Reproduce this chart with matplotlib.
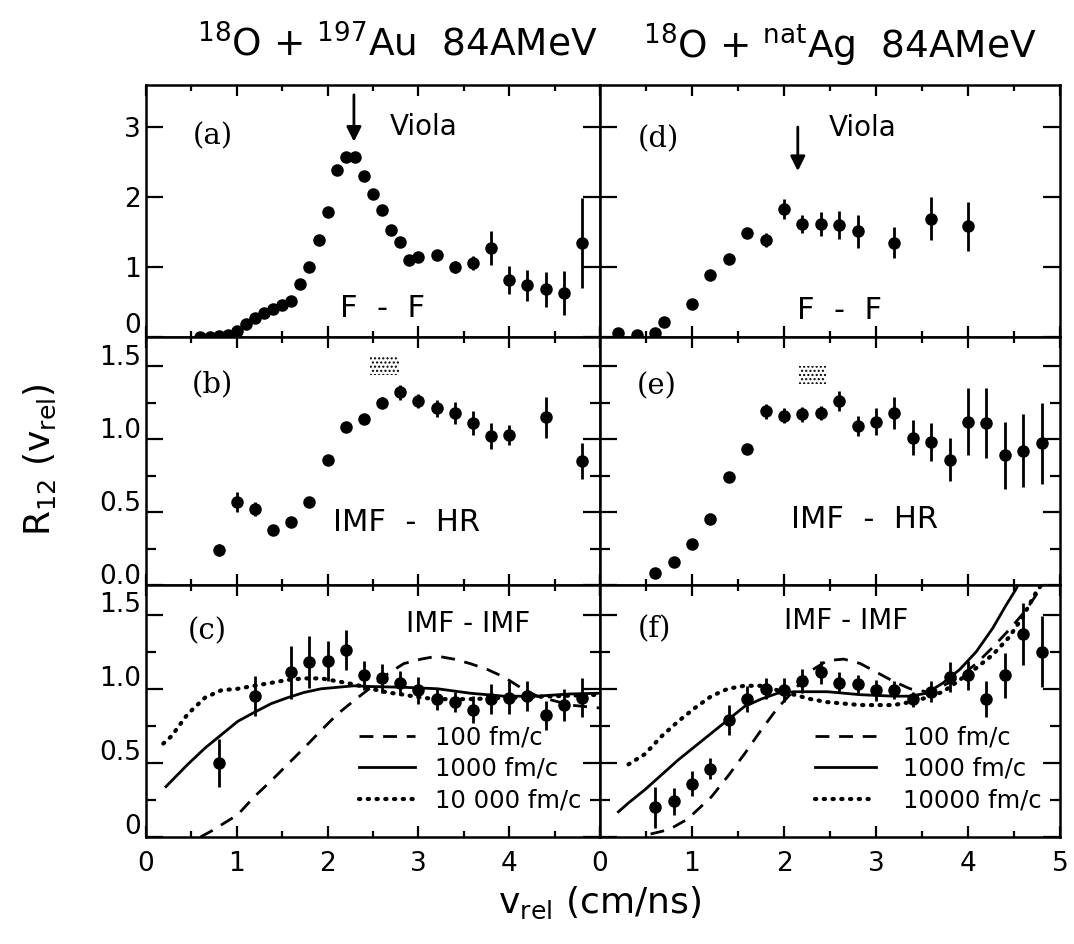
import matplotlib
matplotlib.use("Agg")
import matplotlib.pyplot as plt
import matplotlib.transforms as mtransforms
from matplotlib.patches import Rectangle
from matplotlib.ticker import MultipleLocator, FixedLocator

plt.rcParams['font.family'] = ['DejaVu Sans']
plt.rcParams['mathtext.default'] = 'regular'

# ---------------- data ----------------
# (a) 18O + 197Au, F-F
au_ff_x = [0.6, 0.7, 0.8, 0.9, 1.0, 1.1, 1.2, 1.3, 1.4, 1.5, 1.6, 1.7, 1.8, 1.9, 2.0,
           2.1, 2.2, 2.3, 2.4, 2.5, 2.6, 2.7, 2.8, 2.9, 3.0, 3.2, 3.4, 3.6, 3.8, 4.0,
           4.2, 4.4, 4.6, 4.8]
au_ff_y = [0.0, 0.0, 0.01, 0.03, 0.08, 0.18, 0.27, 0.34, 0.40, 0.46, 0.52, 0.76, 1.0, 1.39, 1.78,
           2.38, 2.57, 2.57, 2.30, 2.05, 1.82, 1.53, 1.36, 1.10, 1.15, 1.17, 1.00, 1.06, 1.27, 0.82,
           0.74, 0.68, 0.63, 1.34]
au_ff_e = [0, 0, 0, 0, 0, 0, 0, 0, 0, 0, 0, 0, 0, 0, 0,
           0.06, 0.06, 0.06, 0.06, 0.06, 0.06, 0.06, 0.06, 0.06, 0.05, 0.07, 0.08, 0.10, 0.24, 0.20,
           0.22, 0.25, 0.31, 0.64]

# (b) 18O + 197Au, IMF-HR
au_ih_x = [0.8, 1.0, 1.2, 1.4, 1.6, 1.8, 2.0, 2.2, 2.4, 2.6, 2.8, 3.0, 3.2, 3.4, 3.6, 3.8, 4.0, 4.4, 4.8]
au_ih_y = [0.24, 0.57, 0.52, 0.38, 0.43, 0.57, 0.86, 1.08, 1.14, 1.25, 1.32, 1.26, 1.21, 1.18, 1.11,
           1.02, 1.03, 1.15, 0.85]
au_ih_e = [0.04, 0.07, 0.05, 0, 0, 0, 0, 0, 0, 0.04, 0.05, 0.05, 0.06, 0.076, 0.08, 0.09, 0.07, 0.14, 0.12]

# (c) 18O + 197Au, IMF-IMF
au_ii_x = [0.8, 1.2, 1.6, 1.8, 2.0, 2.2, 2.4, 2.6, 2.8, 3.0, 3.2, 3.4, 3.6, 3.8, 4.0, 4.2, 4.4, 4.6, 4.8]
au_ii_y = [0.50, 0.95, 1.11, 1.18, 1.19, 1.26, 1.09, 1.07, 1.04, 0.99, 0.93, 0.91, 0.86, 0.93, 0.94,
           0.95, 0.82, 0.89, 0.94]
au_ii_e = [0.16, 0.135, 0.18, 0.175, 0.135, 0.135, 0.10, 0.10, 0.08, 0.09, 0.07, 0.07, 0.09, 0.10,
           0.11, 0.10, 0.10, 0.11, 0.13]

au_t100_x = [0.6, 0.72, 1.01, 1.19, 1.38, 1.56, 1.74, 1.93, 2.11, 2.29, 2.48, 2.66, 2.84, 3.03, 3.21,
             3.39, 3.57, 3.76, 3.94, 4.12, 4.31, 4.49, 4.67, 5.0]
au_t100_y = [0.0, 0.04, 0.15, 0.27, 0.38, 0.49, 0.60, 0.72, 0.83, 0.92, 1.01, 1.10, 1.17, 1.20, 1.22,
             1.20, 1.17, 1.13, 1.08, 1.01, 0.95, 0.92, 0.89, 0.87]
au_t1000_x = [0.22, 0.46, 0.65, 0.83, 1.01, 1.19, 1.38, 1.56, 1.74, 1.93, 2.11, 2.29, 2.48, 2.84, 3.21,
              3.57, 3.94, 4.30, 4.67, 5.0]
au_t1000_y = [0.34, 0.49, 0.60, 0.69, 0.78, 0.84, 0.90, 0.94, 0.975, 1.0, 1.01, 1.02, 1.015, 1.01, 1.0,
              0.97, 0.95, 0.95, 0.965, 0.97]
au_t10000_x = [0.19, 0.28, 0.46, 0.65, 0.83, 1.01, 1.19, 1.38, 1.56, 1.74, 1.93, 2.11, 2.29, 2.48, 2.66,
               2.84, 3.03, 3.21, 3.57, 4.0, 4.5, 5.0]
au_t10000_y = [0.63, 0.68, 0.83, 0.94, 0.99, 1.00, 1.02, 1.04, 1.06, 1.07, 1.07, 1.05, 1.03, 1.00, 0.975,
               0.96, 0.94, 0.93, 0.93, 0.94, 0.95, 0.96]

# (d) 18O + natAg, F-F
ag_ff_x = [0.2, 0.4, 0.6, 0.7, 1.0, 1.2, 1.4, 1.6, 1.8, 2.0, 2.2, 2.4, 2.6, 2.8, 3.2, 3.6, 4.0]
ag_ff_y = [0.06, 0.03, 0.06, 0.22, 0.47, 0.88, 1.12, 1.48, 1.39, 1.83, 1.62, 1.62, 1.60, 1.51, 1.35,
           1.69, 1.58]
ag_ff_e = [0, 0, 0, 0, 0, 0, 0, 0, 0.10, 0.14, 0.13, 0.17, 0.20, 0.24, 0.22, 0.31, 0.35]

# (e) 18O + natAg, IMF-HR
ag_ih_x = [0.6, 0.8, 1.0, 1.2, 1.4, 1.6, 1.8, 2.0, 2.2, 2.4, 2.6, 2.8, 3.0, 3.2, 3.4, 3.6, 3.8, 4.0,
           4.2, 4.4, 4.6, 4.8]
ag_ih_y = [0.08, 0.16, 0.28, 0.45, 0.74, 0.93, 1.19, 1.16, 1.17, 1.18, 1.26, 1.09, 1.12, 1.18, 1.01,
           0.98, 0.86, 1.12, 1.11, 0.89, 0.92, 0.97]
ag_ih_e = [0, 0, 0, 0, 0, 0, 0.05, 0.05, 0.05, 0.05, 0.07, 0.07, 0.09, 0.11, 0.12, 0.13, 0.15, 0.23,
           0.24, 0.23, 0.25, 0.28]

# (f) 18O + natAg, IMF-IMF
ag_ii_x = [0.6, 0.8, 1.0, 1.2, 1.4, 1.6, 1.8, 2.0, 2.2, 2.4, 2.6, 2.8, 3.0, 3.2, 3.4, 3.6, 3.8, 4.0,
           4.2, 4.4, 4.6, 4.8]
ag_ii_y = [0.20, 0.24, 0.36, 0.46, 0.79, 0.93, 1.00, 0.99, 1.05, 1.11, 1.04, 1.03, 0.99, 0.99, 0.93,
           0.98, 1.08, 1.09, 0.93, 1.09, 1.37, 1.25]
ag_ii_e = [0.14, 0.09, 0.085, 0.07, 0.10, 0.09, 0.07, 0.08, 0.08, 0.08, 0.07, 0.06, 0.07, 0.06, 0.05,
           0.07, 0.10, 0.10, 0.12, 0.15, 0.21, 0.24]

ag_t100_x = [0.55, 0.75, 0.95, 1.21, 1.39, 1.57, 1.75, 1.93, 2.11, 2.29, 2.47, 2.65, 2.83, 3.01, 3.19,
             3.37, 3.55, 3.73, 3.91, 4.09, 4.27, 4.45, 4.63, 4.77, 4.82]
ag_t100_y = [0.02, 0.05, 0.12, 0.27, 0.41, 0.56, 0.72, 0.87, 0.99, 1.12, 1.19, 1.20, 1.17, 1.11, 1.05,
             1.00, 0.98, 1.02, 1.08, 1.17, 1.28, 1.40, 1.53, 1.66, 1.72]
ag_t1000_x = [0.2, 0.31, 0.49, 0.67, 0.85, 1.03, 1.21, 1.39, 1.57, 1.75, 1.93, 2.11, 2.47, 2.83, 3.19,
              3.37, 3.55, 3.73, 3.91, 4.09, 4.27, 4.41, 4.52, 4.56]
ag_t1000_y = [0.17, 0.23, 0.32, 0.42, 0.52, 0.61, 0.70, 0.79, 0.88, 0.93, 0.97, 0.98, 0.98, 0.96, 0.95,
              0.95, 0.97, 1.04, 1.13, 1.25, 1.41, 1.56, 1.67, 1.72]
ag_t10000_x = [0.31, 0.49, 0.67, 0.85, 1.03, 1.21, 1.39, 1.57, 1.75, 1.93, 2.11, 2.29, 2.47, 2.83, 3.19,
               3.37, 3.55, 3.73, 3.91, 4.09, 4.27, 4.45, 4.59, 4.74, 4.82]
ag_t10000_y = [0.49, 0.56, 0.68, 0.78, 0.87, 0.95, 1.00, 1.02, 1.02, 0.99, 0.96, 0.93, 0.91, 0.89, 0.89,
               0.91, 0.94, 0.98, 1.06, 1.14, 1.23, 1.35, 1.48, 1.65, 1.72]

titles = [r"$^{18}$O + $^{197}$Au  84AMeV", r"$^{18}$O + $^{nat}$Ag  84AMeV"]
panel_tags = ["(a)", "(b)", "(c)", "(d)", "(e)", "(f)"]
legend_labels_left = ["100 fm/c", "1000 fm/c", "10 000 fm/c"]
legend_labels_right = ["100 fm/c", "1000 fm/c", "10000 fm/c"]

# ---------------- figure ----------------
W, H = 1074, 944
fig = plt.figure(figsize=(W / 100, H / 100), dpi=100)

cols = [(146, 600), (600, 1060)]
rows = [(85, 337), (337, 585), (585, 837)]
ylims = [3.6, 1.7, 1.7]

axes = {}
for ci, (x0, x1) in enumerate(cols):
    for ri, (y0, y1) in enumerate(rows):
        ax = fig.add_axes([x0 / W, 1 - y1 / H, (x1 - x0) / W, (y1 - y0) / H])
        ax.set_xlim(0, 5)
        ax.set_ylim(0, ylims[ri])
        for s in ax.spines.values():
            s.set_linewidth(1.8)
        ax.xaxis.set_major_locator(MultipleLocator(1))
        ax.xaxis.set_minor_locator(MultipleLocator(0.5))
        if ri == 0:
            ax.yaxis.set_major_locator(FixedLocator([0, 1, 2, 3]))
        else:
            ax.yaxis.set_major_locator(MultipleLocator(0.5))
            ax.yaxis.set_minor_locator(MultipleLocator(0.25))
        ax.tick_params(axis='both', which='both', direction='in', top=True, right=True,
                       width=1.6, labelsize=19)
        ax.tick_params(axis='x', which='major', length=8)
        ax.tick_params(axis='x', which='minor', length=4.5)
        ax.tick_params(axis='y', which='major', length=12)
        ax.tick_params(axis='y', which='minor', length=7)
        ax.tick_params(axis='x', pad=10)
        if ri < 2:
            ax.tick_params(axis='x', labelbottom=False)
        if ci == 1:
            ax.tick_params(axis='y', labelleft=False)
        axes[(ci, ri)] = ax

# y tick labels
axa, axb, axc = axes[(0, 0)], axes[(0, 1)], axes[(0, 2)]
axa.set_yticklabels(["0", "1", "2", "3"])
axb.set_yticks([0, 0.5, 1.0, 1.5])
axb.set_yticklabels(["0.0", "0.5", "1.0", "1.5"])
axc.set_yticks([0, 0.5, 1.0, 1.5])
axc.set_yticklabels(["0", "0.5", "1.0", "1.5"])
# x tick labels
axes[(0, 2)].set_xticks([0, 1, 2, 3, 4, 5])
axes[(0, 2)].set_xticklabels(["0", "1", "2", "3", "4", ""])
axes[(1, 2)].set_xticks([0, 1, 2, 3, 4, 5])
axes[(1, 2)].set_xticklabels(["0", "1", "2", "3", "4", "5"])

# shift y labels slightly upward as in the original
def shift(labels, dy_px):
    for lab in labels:
        lab.set_transform(lab.get_transform() +
                          mtransforms.ScaledTranslation(0, dy_px / 100, fig.dpi_scale_trans))

shift([axes[(0, 0)].get_yticklabels()[0]], 14)
shift(axes[(0, 1)].get_yticklabels(), 11)
shift(axes[(0, 2)].get_yticklabels(), 13)

pt = dict(fmt='o', color='black', ms=8, elinewidth=2, capsize=0, zorder=3)
curve_kw = {
    't100': dict(color='black', lw=2, dashes=(5, 3.5)),
    't1000': dict(color='black', lw=2, linestyle='-'),
    't10000': dict(color='black', lw=3, dashes=(0.3, 1.8), dash_capstyle='round'),
}
leg_fs = 17.5

# (a)
ax = axes[(0, 0)]
ax.errorbar(au_ff_x, au_ff_y, yerr=au_ff_e, **pt)
ax.annotate('', xy=(2.29, 2.79), xytext=(2.29, 3.46),
            arrowprops=dict(arrowstyle='-|>', lw=2, color='black', mutation_scale=22,
                            shrinkA=0, shrinkB=0))
ax.text(2.68, 3.0, "Viola", fontsize=20, va='center', ha='left')
ax.text(2.6, 0.41, "F  -  F", fontsize=22, va='center', ha='center')

# (b)
ax = axes[(0, 1)]
ax.errorbar(au_ih_x, au_ih_y, yerr=au_ih_e, **pt)
ax.add_patch(Rectangle((2.47, 1.44), 0.32, 0.12, facecolor='white', edgecolor='black',
                       hatch='....', lw=0))
ax.text(2.87, 0.43, "IMF  -  HR", fontsize=22, va='center', ha='center')

# (c)
ax = axes[(0, 2)]
h1, = ax.plot(au_t100_x, au_t100_y, **curve_kw['t100'])
h2, = ax.plot(au_t1000_x, au_t1000_y, **curve_kw['t1000'])
h3, = ax.plot(au_t10000_x, au_t10000_y, **curve_kw['t10000'])
ax.errorbar(au_ii_x, au_ii_y, yerr=au_ii_e, **pt)
ax.text(3.55, 1.44, "IMF - IMF", fontsize=20, va='center', ha='center')
ax.legend([h1, h2, h3], legend_labels_left, loc='center left', bbox_to_anchor=(0.47, 0.27),
          frameon=False, fontsize=leg_fs, handlelength=2.3, handletextpad=0.8,
          labelspacing=0.3, borderpad=0, borderaxespad=0)

# (d)
ax = axes[(1, 0)]
ax.errorbar(ag_ff_x, ag_ff_y, yerr=ag_ff_e, **pt)
ax.annotate('', xy=(2.15, 2.37), xytext=(2.15, 3.0),
            arrowprops=dict(arrowstyle='-|>', lw=2, color='black', mutation_scale=22,
                            shrinkA=0, shrinkB=0))
ax.text(2.49, 2.98, "Viola", fontsize=20, va='center', ha='left')
ax.text(2.6, 0.38, "F  -  F", fontsize=22, va='center', ha='center')

# (e)
ax = axes[(1, 1)]
ax.errorbar(ag_ih_x, ag_ih_y, yerr=ag_ih_e, **pt)
ax.add_patch(Rectangle((2.16, 1.38), 0.30, 0.12, facecolor='white', edgecolor='black',
                       hatch='....', lw=0))
ax.text(2.88, 0.45, "IMF  -  HR", fontsize=22, va='center', ha='center')

# (f)
ax = axes[(1, 2)]
g1, = ax.plot(ag_t100_x, ag_t100_y, **curve_kw['t100'])
g2, = ax.plot(ag_t1000_x, ag_t1000_y, **curve_kw['t1000'])
g3, = ax.plot(ag_t10000_x, ag_t10000_y, **curve_kw['t10000'])
ax.errorbar(ag_ii_x, ag_ii_y, yerr=ag_ii_e, **pt)
ax.text(2.68, 1.46, "IMF - IMF", fontsize=20, va='center', ha='center')
ax.legend([g1, g2, g3], legend_labels_right, loc='center left', bbox_to_anchor=(0.468, 0.27),
          frameon=False, fontsize=leg_fs, handlelength=2.5, handletextpad=1.1,
          labelspacing=0.3, borderpad=0, borderaxespad=0)

# panel tags
tag_pos = {(0, 0): (0.52, 2.86), (0, 1): (0.5, 1.37), (0, 2): (0.46, 1.39),
           (1, 0): (0.41, 2.83), (1, 1): (0.40, 1.36), (1, 2): (0.41, 1.40)}
for (ci, ri), tag in zip([(0, 0), (0, 1), (0, 2), (1, 0), (1, 1), (1, 2)], panel_tags):
    x, y = tag_pos[(ci, ri)]
    axes[(ci, ri)].text(x, y, tag, fontsize=21, family='DejaVu Serif', va='center', ha='left')

# titles and axis labels
fig.text(397 / W, 1 - 45 / H, titles[0], ha='center', va='center', fontsize=27)
fig.text(840 / W, 1 - 45 / H, titles[1], ha='center', va='center', fontsize=27)
fig.text(40 / W, 1 - 460 / H, r"R$_{12}$ (v$_{rel}$)", rotation=90, ha='center', va='center',
         fontsize=26)
fig.text(600 / W, 1 - 903 / H, r"v$_{rel}$ (cm/ns)", ha='center', va='center', fontsize=26)

fig.savefig("out.png", dpi=100)
